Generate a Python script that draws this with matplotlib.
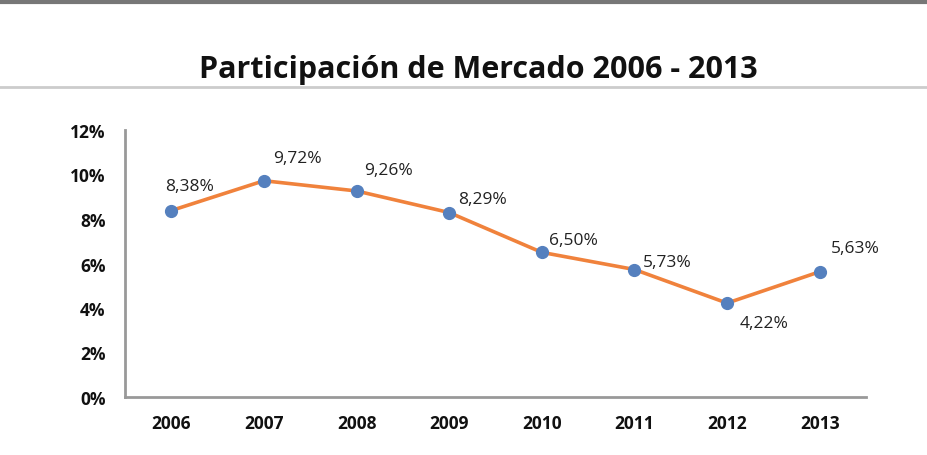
import matplotlib.pyplot as plt
from matplotlib.lines import Line2D

# data
years = ["2006", "2007", "2008", "2009", "2010", "2011", "2012", "2013"]
share = [8.38, 9.72, 9.26, 8.29, 6.50, 5.73, 4.22, 5.63]
labels = ["8,38%", "9,72%", "9,26%", "8,29%", "6,50%", "5,73%", "4,22%", "5,63%"]
# label offsets in pixels (dx, dy) relative to each marker
offsets = [(18, 25), (33, 23), (32, 21), (33, 14), (32, 12), (33, 8), (37, -20), (36, 24)]

plt.rcParams['font.family'] = ['Open Sans', 'DejaVu Sans']

fig = plt.figure(figsize=(9.28, 4.56), dpi=100)
ax = fig.add_axes([125/928, 1 - 398/456, 741/928, 267/456])

x = [i + 0.5 for i in range(len(years))]
ax.plot(x, share, color="#F0823C", lw=2.6, marker="o", ms=8.5,
        mfc="#5580BE", mec="#5580BE", zorder=3)

for xi, yi, lab, (dx, dy) in zip(x, share, labels, offsets):
    ax.annotate(lab, (xi, yi), xytext=(dx, dy), textcoords="offset pixels",
                ha="center", va="center", fontsize=12.5, color="#222222")

ax.set_xlim(0, len(years))
ax.set_ylim(0, 12)
ax.set_xticks(x)
ax.set_xticklabels(years)
ax.set_yticks(range(0, 13, 2))
ax.set_yticklabels([f"{v}%" for v in range(0, 13, 2)])
ax.tick_params(length=0, labelsize=12.5, colors="#111111")
ax.tick_params(axis="y", pad=14)
ax.tick_params(axis="x", pad=12)
for t in ax.get_xticklabels() + ax.get_yticklabels():
    t.set_fontweight("bold")

for s in ["top", "right"]:
    ax.spines[s].set_visible(False)
for s in ["left", "bottom"]:
    ax.spines[s].set_color("#999999")
    ax.spines[s].set_linewidth(2)

fig.text(478/928, 1 - 70/456, "Participación de Mercado 2006 - 2013",
         ha="center", va="center", fontsize=22, fontweight="bold", color="#111111")

# frame lines
fig.add_artist(Line2D([0, 1], [1 - 3/456, 1 - 3/456], color="#777777", lw=3))
fig.add_artist(Line2D([0, 1], [1 - 88/456, 1 - 88/456], color="#CCCCCC", lw=2))

plt.savefig("out.png", dpi=100)
plt.close()
